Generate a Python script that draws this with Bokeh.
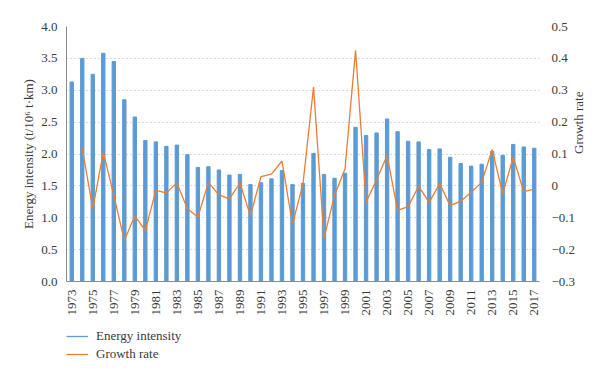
import math
import numpy as np
from bokeh.plotting import figure
from bokeh.layouts import column
from bokeh.models import (ColumnDataSource, LinearAxis, Range1d, FixedTicker,
                          NumeralTickFormatter, CustomJSTickFormatter, Legend,
                          LegendItem)
from bokeh.embed import file_html
from bokeh.resources import INLINE

years = list(range(1973, 2018))
energy_intensity = [3.13, 3.50, 3.25, 3.58, 3.45, 2.85, 2.58, 2.21, 2.19, 2.12,
                    2.14, 1.99, 1.79, 1.80, 1.75, 1.67, 1.68, 1.52, 1.55, 1.61,
                    1.74, 1.52, 1.54, 2.01, 1.68, 1.62, 1.70, 2.42, 2.29, 2.33,
                    2.55, 2.35, 2.20, 2.19, 2.07, 2.08, 1.95, 1.85, 1.81, 1.84,
                    2.04, 1.98, 2.15, 2.11, 2.09]
growth_years = list(range(1974, 2018))
growth_rate = [0.118, -0.072, 0.106, -0.030, -0.171, -0.094, -0.140, -0.014,
               -0.022, 0.009, -0.072, -0.098, 0.011, -0.028, -0.041, 0.009,
               -0.094, 0.029, 0.037, 0.078, -0.121, 0.007, 0.310, -0.164,
               -0.030, 0.054, 0.425, -0.051, 0.019, 0.095, -0.077, -0.065,
               -0.001, -0.052, 0.007, -0.062, -0.048, -0.020, 0.011, 0.114,
               -0.025, 0.090, -0.018, -0.010]
year_ticks = list(range(1973, 2018, 2))
left_ticks = [0.0, 0.5, 1.0, 1.5, 2.0, 2.5, 3.0, 3.5, 4.0]
right_ticks = [-0.3, -0.2, -0.1, 0.0, 0.1, 0.2, 0.3, 0.4, 0.5]
legend_labels = ["Energy intensity", "Growth rate"]

FONT = "'Liberation Serif', serif"
TXT = "#3a3a3a"
BLUE = "#5B9BD5"
ORANGE = "#ED7D31"
W = 596

p = figure(width=W, height=325, output_backend="svg", toolbar_location=None,
           x_range=Range1d(1972.5, 2017.5), y_range=Range1d(0, 4.0),
           min_border_left=66, min_border_right=55, min_border_top=26,
           min_border_bottom=44)
p.outline_line_color = None
p.xgrid.grid_line_color = None
p.ygrid.grid_line_color = "#b3b3b3"
p.ygrid.grid_line_dash = "1 3"
p.ygrid.grid_line_width = 1

p.extra_y_ranges = {"gr": Range1d(-0.3, 0.5)}

src_e = ColumnDataSource(dict(x=years, y=energy_intensity))
src_g = ColumnDataSource(dict(x=growth_years, y=growth_rate))

bars = p.vbar(x="x", top="y", width=0.32, source=src_e, color=BLUE)
gl = p.line(x="x", y="y", source=src_g, y_range_name="gr", line_color=ORANGE,
            line_width=1.3)

# axes
xa = p.xaxis[0]
xa.ticker = FixedTicker(ticks=year_ticks)
xa.major_label_orientation = math.pi / 2
xa.major_tick_line_color = None
xa.minor_tick_line_color = None
xa.axis_line_color = "#8c8c8c"
xa.major_label_text_font = FONT
xa.major_label_text_font_size = "13px"
xa.major_label_text_color = TXT
xa.major_label_standoff = 2

ya = p.yaxis[0]
ya.ticker = FixedTicker(ticks=left_ticks)
ya.formatter = NumeralTickFormatter(format="0.0")
ya.major_tick_line_color = None
ya.minor_tick_line_color = None
ya.axis_line_color = "#8c8c8c"
ya.major_label_text_font = FONT
ya.major_label_text_font_size = "13px"
ya.major_label_text_color = TXT
ya.major_label_standoff = 3
ya.axis_label = "Energy intensity (t/10\u2076 t\u00b7km)"
ya.axis_label_text_font = FONT
ya.axis_label_text_font_size = "13px"
ya.axis_label_text_font_style = "normal"
ya.axis_label_text_color = TXT
ya.axis_label_standoff = 2

ra = LinearAxis(y_range_name="gr", ticker=FixedTicker(ticks=right_ticks))
ra.formatter = CustomJSTickFormatter(code="""
    if (Math.abs(tick) < 1e-9) { return '0'; }
    return (tick < 0 ? '\u2212' : '') + Math.abs(tick).toFixed(1);
""")
ra.axis_line_color = None
ra.major_tick_line_color = None
ra.minor_tick_line_color = None
ra.major_label_text_font = FONT
ra.major_label_text_font_size = "13px"
ra.major_label_text_color = TXT
ra.major_label_standoff = 6
ra.axis_label = "Growth rate"
ra.axis_label_text_font = FONT
ra.axis_label_text_font_size = "13px"
ra.axis_label_text_font_style = "normal"
ra.axis_label_text_color = TXT
ra.axis_label_standoff = 0
if "axis_label_orientation" in LinearAxis.properties():
    ra.axis_label_orientation = math.pi / 2
p.add_layout(ra, "right")

# legend panel (separate strip under the chart)
lg = figure(width=W, height=38, output_backend="svg", toolbar_location=None,
            x_range=Range1d(0, 1), y_range=Range1d(0, 1),
            x_axis_type=None, y_axis_type=None,
            min_border_left=66, min_border_right=55, min_border_top=0,
            min_border_bottom=0)
lg.outline_line_color = None
lg.grid.grid_line_color = None
l1 = lg.line(x=np.array([np.nan]), y=np.array([np.nan]), line_color=BLUE,
             line_width=1.3)
l2 = lg.line(x=np.array([np.nan]), y=np.array([np.nan]), line_color=ORANGE,
             line_width=1.3)
legend = Legend(items=[LegendItem(label=legend_labels[0], renderers=[l1]),
                       LegendItem(label=legend_labels[1], renderers=[l2])],
                location=(0, 1), orientation="vertical",
                border_line_color=None, background_fill_alpha=0,
                label_text_font=FONT, label_text_font_size="13px",
                label_text_color=TXT, glyph_width=22, glyph_height=16,
                label_height=16, spacing=2, padding=0, margin=0,
                label_standoff=8)
lg.add_layout(legend)

layout = column(p, lg, spacing=0)
open("out.html", "w").write(file_html(layout, INLINE))
